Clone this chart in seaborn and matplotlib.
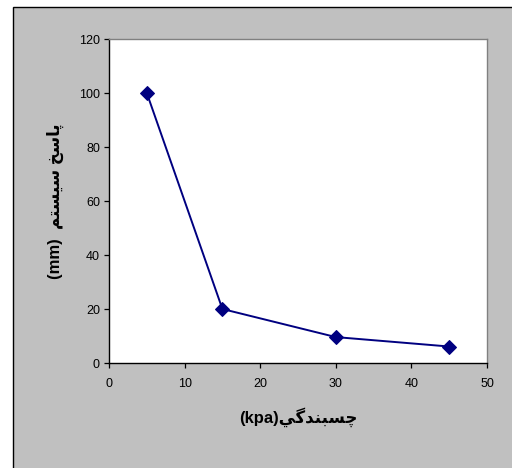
import re
import matplotlib
matplotlib.use("Agg")
import matplotlib.pyplot as plt
from matplotlib.patches import Rectangle
import pandas as pd
import seaborn as sns

# data
cohesion = [5, 15, 30, 45]
response = [100, 20, 9.6, 6.1]
x_ticks = [0, 10, 20, 30, 40, 50]
y_ticks = [0, 20, 40, 60, 80, 100, 120]
x_label = "چسبندگي(kpa)"
y_label = "پاسخ سيستم  (mm)"

# matplotlib has no Arabic shaping, so join letters by hand
# letter: (isolated, final, initial, medial); None = does not join forward
FORMS = {
    "ا": ("\uFE8D", "\uFE8E", None, None),
    "د": ("\uFEA9", "\uFEAA", None, None),
    "ب": ("\uFE8F", "\uFE90", "\uFE91", "\uFE92"),
    "پ": ("\uFB56", "\uFB57", "\uFB58", "\uFB59"),
    "ت": ("\uFE95", "\uFE96", "\uFE97", "\uFE98"),
    "چ": ("\uFB7A", "\uFB7B", "\uFB7C", "\uFB7D"),
    "خ": ("\uFEA5", "\uFEA6", "\uFEA7", "\uFEA8"),
    "س": ("\uFEB1", "\uFEB2", "\uFEB3", "\uFEB4"),
    "م": ("\uFEE1", "\uFEE2", "\uFEE3", "\uFEE4"),
    "ن": ("\uFEE5", "\uFEE6", "\uFEE7", "\uFEE8"),
    "گ": ("\uFB92", "\uFB93", "\uFB94", "\uFB95"),
    "ي": ("\uFEF1", "\uFEF2", "\uFEF3", "\uFEF4"),
}
AR = "[\u0600-\u06FF\uFB50-\uFDFF\uFE70-\uFEFF]"


def shape(text):
    out = []
    for i, ch in enumerate(text):
        if ch not in FORMS:
            out.append(ch)
            continue
        prev = text[i - 1] if i > 0 else ""
        nxt = text[i + 1] if i + 1 < len(text) else ""
        join_prev = prev in FORMS and FORMS[prev][2] is not None
        join_next = nxt in FORMS and FORMS[ch][2] is not None
        iso, fin, ini, med = FORMS[ch]
        if join_prev and join_next:
            out.append(med)
        elif join_next:
            out.append(ini)
        elif join_prev:
            out.append(fin)
        else:
            out.append(iso)
    shaped = "".join(out)
    # right-to-left paragraph: reverse run order, reverse the Arabic runs
    tokens = re.findall(f"{AR}+(?: +{AR}+)*| +|[^ \u0600-\u06FF\uFB50-\uFDFF\uFE70-\uFEFF]+", shaped)
    tokens = [t[::-1] if re.match(AR, t) else t for t in tokens]
    return "".join(tokens[::-1])


sns.set_style("ticks")
plt.rcParams["font.family"] = ["Liberation Sans", "DejaVu Sans"]

fig = plt.figure(figsize=(5.12, 4.68), dpi=100, facecolor="white")
# Excel-style chart area, drawn behind the axes
chart_area = Rectangle((13 / 512, -0.1), 1.2, 1.1 - 7 / 468,
                       transform=fig.transFigure, facecolor="#C0C0C0",
                       edgecolor="black", linewidth=1.0, zorder=-5)
fig.add_artist(chart_area)

ax = fig.add_axes([109 / 512, 1 - 363 / 468, 378 / 512, 324 / 468])
ax.set_zorder(1)
ax.set_facecolor("white")

df = pd.DataFrame({"cohesion": cohesion, "response": response})
sns.lineplot(data=df, x="cohesion", y="response", ax=ax, color="#000080",
             linewidth=1.4, marker="D", markersize=7.5,
             markeredgecolor="#000080", markerfacecolor="#000080")

ax.set_xlim(0, 50)
ax.set_ylim(0, 120)
ax.set_xticks(x_ticks)
ax.set_yticks(y_ticks)
ax.tick_params(axis="both", direction="out", length=3.5, width=0.9,
               labelsize=9, colors="black")
ax.tick_params(axis="x", pad=7)
ax.tick_params(axis="y", pad=3)

for side in ["left", "bottom"]:
    ax.spines[side].set_color("black")
    ax.spines[side].set_linewidth(1.0)
for side in ["top", "right"]:
    ax.spines[side].set_visible(True)
    ax.spines[side].set_color("#808080")
    ax.spines[side].set_linewidth(1.0)

ax.set_xlabel(shape(x_label), fontsize=12, fontweight="bold",
              color="black", labelpad=13)
ax.set_ylabel(shape(y_label), fontsize=12, fontweight="bold",
              color="black", labelpad=11)

fig.savefig("out.png", dpi=100, facecolor=fig.get_facecolor())
